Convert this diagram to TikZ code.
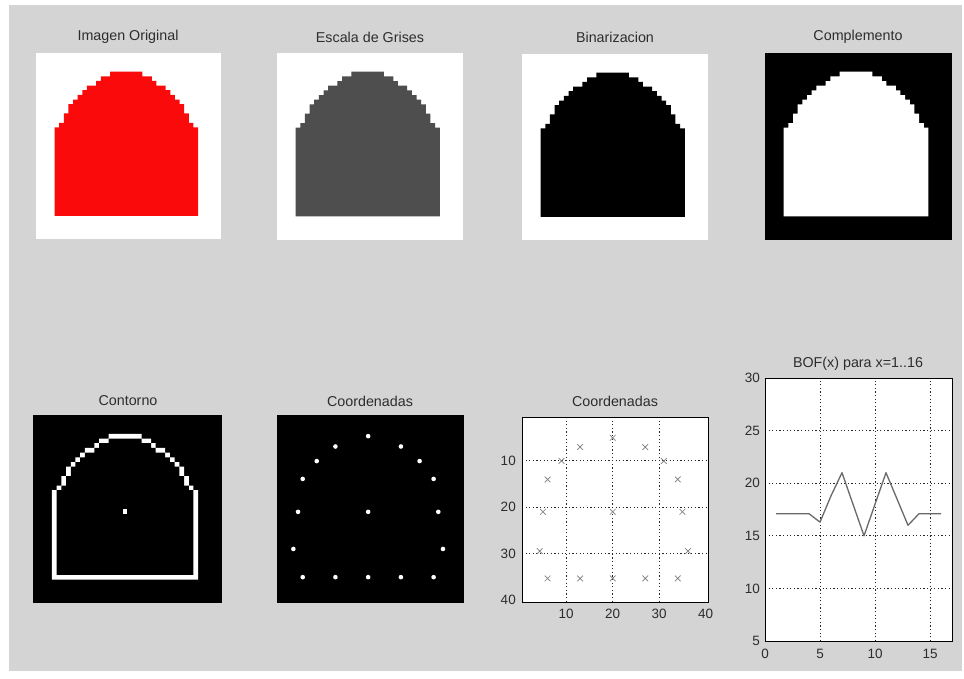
\documentclass[tikz,border=0pt]{standalone}
\usepackage{fontspec}
\setmainfont{Liberation Sans}
\usetikzlibrary{shapes.misc}
\definecolor{figbg}{RGB}{212,212,212}
\definecolor{txt}{RGB}{45,45,45}
\definecolor{gshape}{RGB}{78,78,78}
\definecolor{curve}{RGB}{105,105,105}
\definecolor{mk}{RGB}{125,125,125}
\definecolor{redshape}{RGB}{250,10,10}
\newcommand{\ArchFill}[1]{\fill[#1] (16,4) -- (16,5) -- (14,5) -- (14,6) -- (13,6) -- (13,7) -- (11,7) -- (11,8) -- (10,8) -- (10,9) -- (9,9) -- (9,10) -- (8,10) -- (8,11) -- (7,11) -- (7,13) -- (6,13) -- (6,15) -- (5,15) -- (5,16) -- (4,16) -- (4,35) -- (35,35) -- (35,16) -- (34,16) -- (34,15) -- (33,15) -- (33,13) -- (32,13) -- (32,11) -- (31,11) -- (31,10) -- (30,10) -- (30,9) -- (29,9) -- (29,8) -- (28,8) -- (28,7) -- (26,7) -- (26,6) -- (25,6) -- (25,5) -- (23,5) -- (23,4) -- cycle;}
\newcommand{\ArchInner}[1]{\fill[#1] (16,5) -- (16,6) -- (14,6) -- (14,7) -- (13,7) -- (13,8) -- (11,8) -- (11,9) -- (10,9) -- (10,10) -- (9,10) -- (9,11) -- (8,11) -- (8,13) -- (7,13) -- (7,15) -- (6,15) -- (6,16) -- (5,16) -- (5,34) -- (34,34) -- (34,16) -- (33,16) -- (33,15) -- (32,15) -- (32,13) -- (31,13) -- (31,11) -- (30,11) -- (30,10) -- (29,10) -- (29,9) -- (28,9) -- (28,8) -- (26,8) -- (26,7) -- (25,7) -- (25,6) -- (23,6) -- (23,5) -- cycle;}
\tikzset{
  ttl/.style={font=\fontsize{14.3}{16}\selectfont, text=txt, inner sep=0pt},
  tk/.style={font=\fontsize{13.5}{15}\selectfont, text=txt, inner sep=0pt},
  axbox/.style={draw=black, line width=0.9pt},
  grd/.style={black!85, line width=1pt, dash pattern=on 1.2pt off 2.4pt},
  xmk/.style={cross out, draw=mk, line width=0.7pt, minimum size=5pt, inner sep=0pt},
  wdot/.style={circle, fill=white, minimum size=4.6pt, inner sep=0pt},
  curvestyle/.style={draw=curve, line width=1.3pt, line join=round}
}
\begin{document}
\begin{tikzpicture}[x=1pt,y=-1pt]
\useasboundingbox (0,0) rectangle (964,678);
\fill[white] (0,0) rectangle (964,678);
\fill[figbg] (9,5) rectangle (962,671);

% ---------- top row ----------
\node[ttl] (t1) at (128,37) {Imagen Original};
\node[ttl] (t2) at (370,37) {Escala de Grises};
\node[ttl] (t3) at (615,37) {Binarizacion};
\node[ttl] (t4) at (858,37) {Complemento};

\begin{scope}[shift={(36,53)}, x=4.63pt, y=-4.65pt]
  \fill[white] (0,0) rectangle (40,40);
  \ArchFill{redshape}
\end{scope}
\begin{scope}[shift={(277,53)}, x=4.65pt, y=-4.67pt]
  \fill[white] (0,0) rectangle (40,40);
  \ArchFill{gshape}
\end{scope}
\begin{scope}[shift={(522,54)}, x=4.65pt, y=-4.65pt]
  \fill[white] (0,0) rectangle (40,40);
  \ArchFill{black}
\end{scope}
\begin{scope}[shift={(765,53)}, x=4.67pt, y=-4.67pt]
  \fill[black] (0,0) rectangle (40,40);
  \ArchFill{white}
\end{scope}

% ---------- bottom row ----------
\node[ttl] (t5) at (128,401) {Contorno};
\node[ttl] (t6) at (370,401) {Coordenadas};
\node[ttl] (t7) at (615,401) {Coordenadas};
\node[ttl] (t8) at (858,364) {BOF(x) para x=1..16};

\begin{scope}[shift={(33,415)}, x=4.72pt, y=-4.7pt]
  \fill[black] (0,0) rectangle (40,40);
  \ArchFill{white}
  \ArchInner{black}
  \fill[white] (19,20) rectangle (20,21);
\end{scope}

\begin{scope}[shift={(277,415)}, x=4.675pt, y=-4.7pt]
  \fill[black] (0,0) rectangle (40,40);
  \foreach \px/\py [count=\i] in {20/5,13/7.2,27/7.2,9/10.3,31/10.3,6/14.1,34/14.1,5/21.1,20/21.1,35/21.1,4/29,36/29,6/35,13/35,20/35,27/35,34/35}
    \node[wdot] (d\i) at (\px-0.5,\py-0.5) {};
\end{scope}

% scatter plot
\begin{scope}[shift={(522,417)}, x=4.65pt, y=-4.625pt]
  \fill[white] (0,0) rectangle (40,40);
  \foreach \g in {9.5,19.5,29.5} {
    \draw[grd] (\g,0) -- (\g,40);
    \draw[grd] (0,\g) -- (40,\g);
  }
  \foreach \px/\py [count=\i] in {20/5,13/7,27/7,9/10,31/10,6/14,34/14,5/21,20/21,35/21,4.3/29.5,36.2/29.5,6/35.4,13/35.4,20/35.4,27/35.4,34/35.4}
    \node[xmk] (m\i) at (\px-0.5,\py-0.5) {};
  \draw[axbox] (0,0) rectangle (40,40);
  \foreach \v in {10,20,30} {
    \node[tk, anchor=east] (yl\v) at (-1.3,\v-0.5) {\v};
    \node[tk] (xl\v) at (\v-0.5,42.6) {\v};
  }
  \node[tk, anchor=east] (yl40) at (-1.3,39.5) {40};
  \node[tk] (xl40) at (39.5,42.6) {40};
\end{scope}

% BOF plot
\begin{scope}[shift={(765,641)}, x=11pt, y=10.52pt]
  \fill[white] (0,0) rectangle (17,25);
  \foreach \g in {5,10,15} \draw[grd] (\g,0) -- (\g,25);
  \foreach \g in {5,10,15,20} \draw[grd] (0,\g) -- (17,\g);
  \draw[curvestyle] plot coordinates {(1,12.1) (2,12.1) (3,12.1) (4,12.1) (5,11.3) (6,13.8) (7,16) (8,13) (9,10) (10,13) (11,16) (12,13.5) (13,11) (14,12.1) (15,12.1) (16,12.1)};
  \draw[axbox] (0,0) rectangle (17,25);
  \foreach \v in {5,10,15,20,25,30}
    \node[tk, anchor=east] (by\v) at (-0.45,\v-5) {\v};
  \foreach \v in {0,5,10,15}
    \node[tk] (bx\v) at (\v,-1.25) {\v};
\end{scope}
\end{tikzpicture}
\end{document}
